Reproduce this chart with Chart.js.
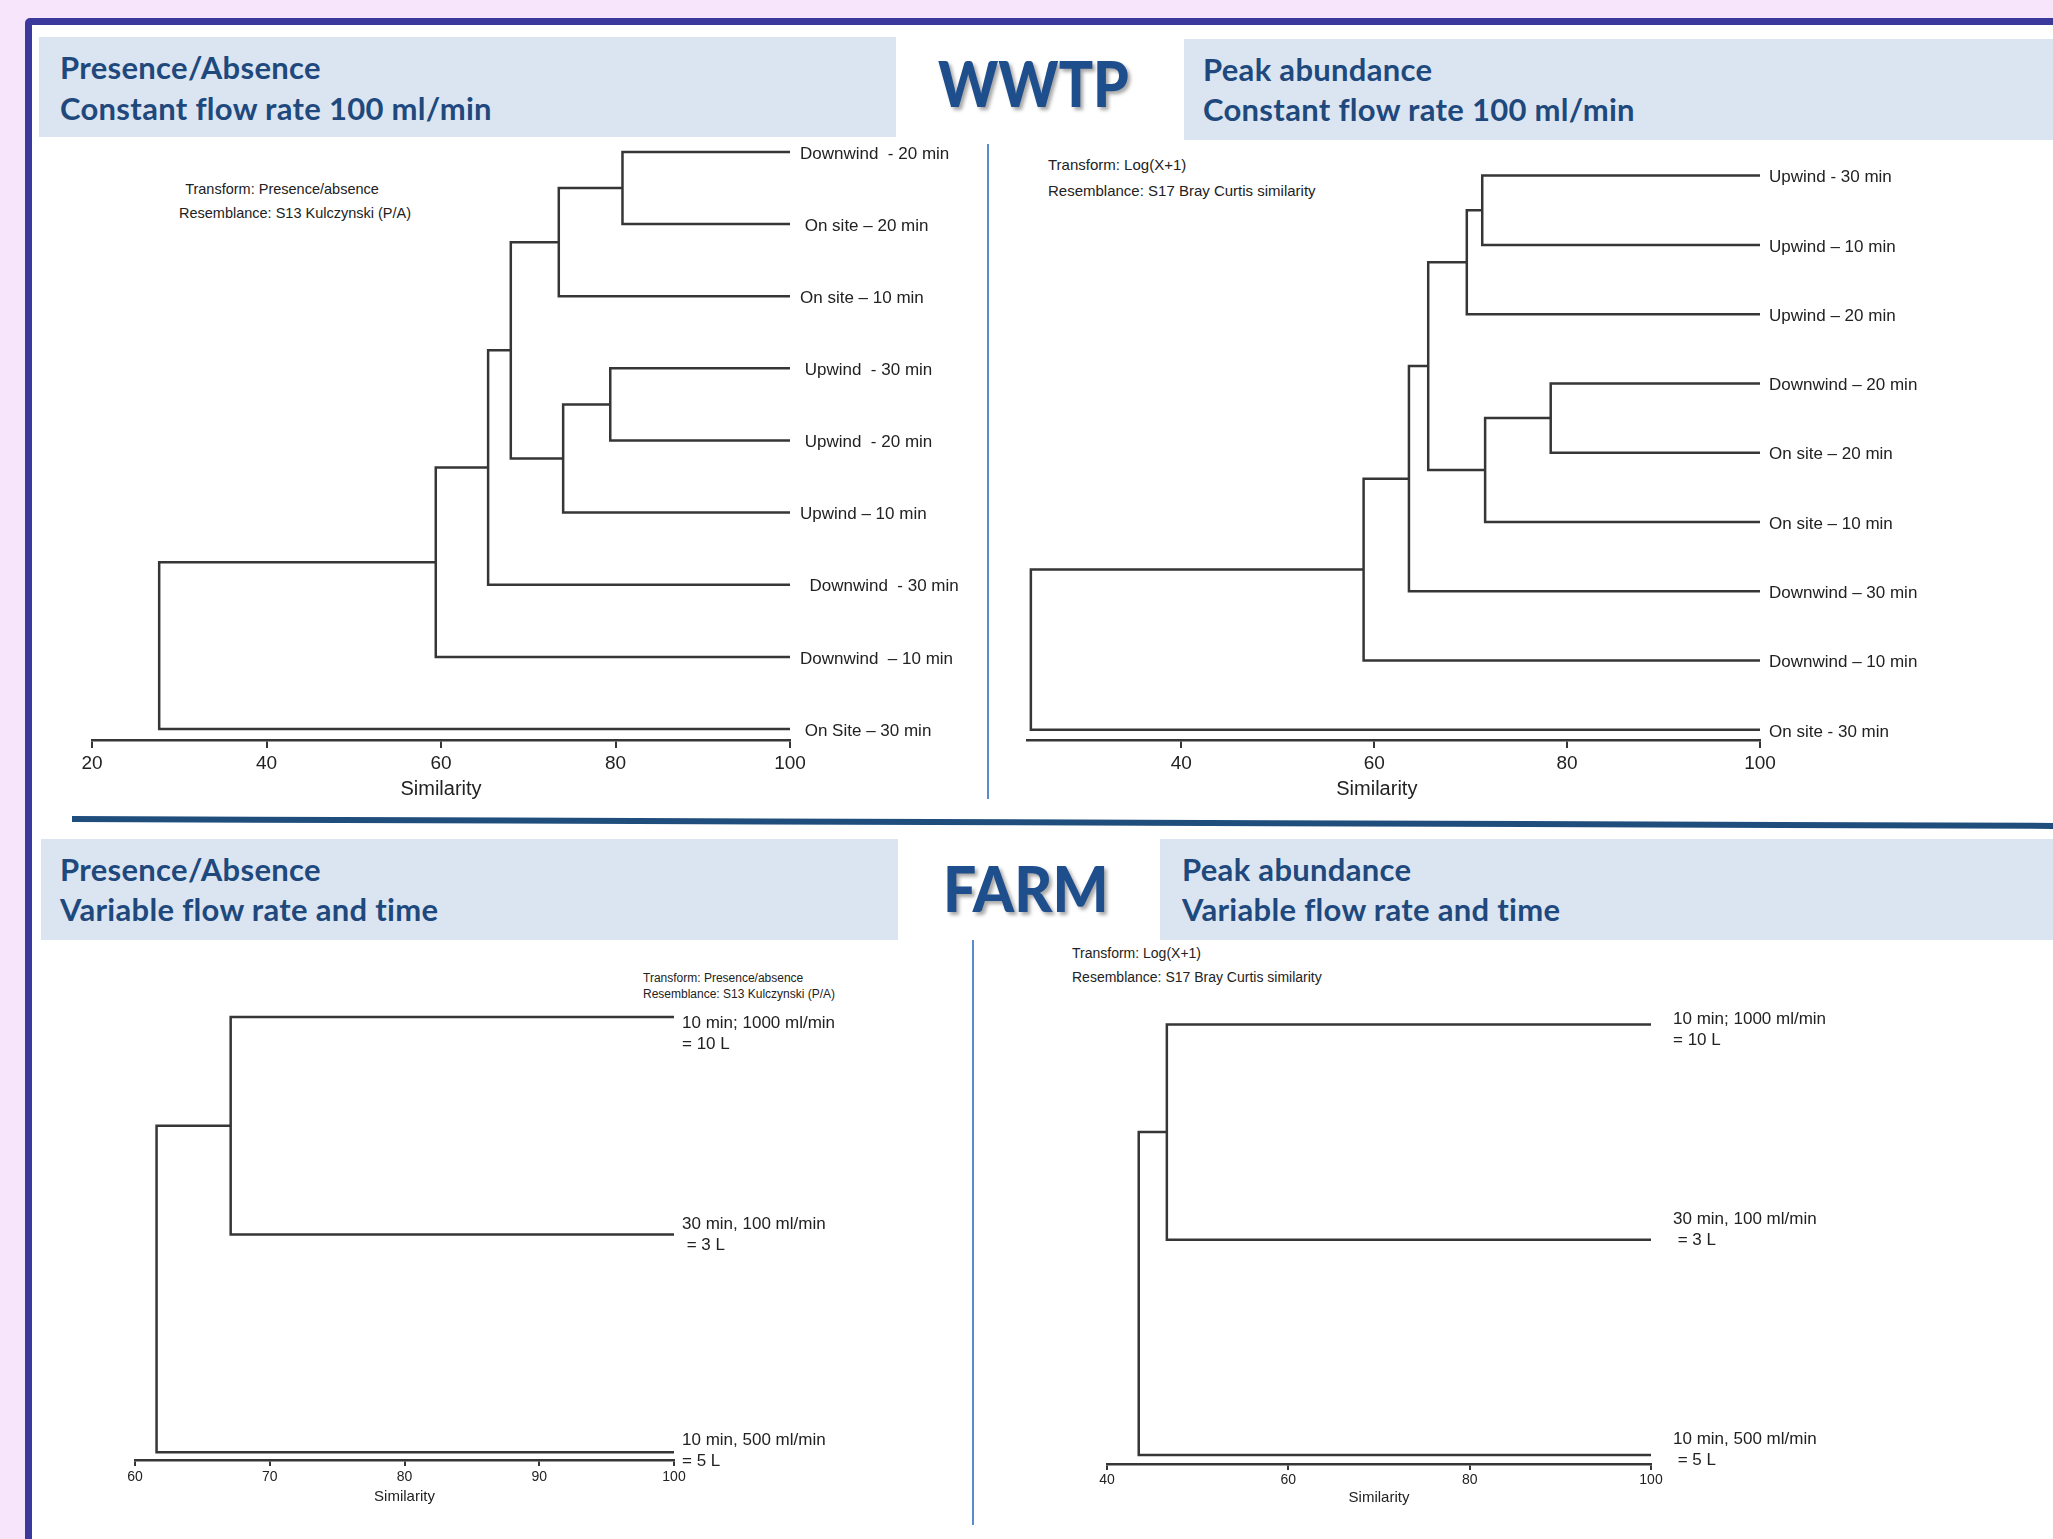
<!DOCTYPE html>
<html>
<head>
<meta charset="utf-8">
<script src="https://cdn.jsdelivr.net/npm/chart.js@4.4.0/dist/chart.umd.min.js"></script>
<style>
  html, body { margin: 0; padding: 0; }
  body { width: 2053px; height: 1539px; background: #f7e5fb; position: relative; overflow: hidden;
         font-family: 'Liberation Sans', Arial, sans-serif; }
  #frame { position: absolute; left: 25px; top: 18px; width: 2100px; height: 1600px; box-sizing: border-box;
           border: 7px solid #3b3a9c; border-radius: 5px; background: #fff; }
  .hbox { position: absolute; background: #dbe5f1; }
  .htext { position: absolute; font-family: Lato, 'Open Sans', sans-serif; font-weight: 700; color: #1f497d;
           font-size: 31px; letter-spacing: 0.3px; line-height: 1; white-space: nowrap; }
  .big { position: absolute; font-family: Lato, 'Open Sans', sans-serif; font-weight: 900; color: #1f4e8c;
         font-size: 62px; line-height: 1; text-shadow: 3px 3px 4px rgba(0,0,0,0.35); transform-origin: left top; }
  .vsep { position: absolute; width: 2px; background: #5b8bc9; }
  .note { position: absolute; color: #222; white-space: nowrap; line-height: 1; }
  canvas { position: absolute; }
</style>
</head>
<body>
<div id="frame"></div>

<div class="hbox" style="left:39px;top:37px;width:857px;height:100px"></div>
<div class="hbox" style="left:1184px;top:39px;width:900px;height:101px"></div>
<div class="hbox" style="left:41px;top:839px;width:857px;height:101px"></div>
<div class="hbox" style="left:1160px;top:839px;width:900px;height:101px"></div>

<div class="htext" style="left:60px;top:52px">Presence/Absence</div>
<div class="htext" style="left:60px;top:93px">Constant flow rate 100 ml/min</div>
<div class="htext" style="left:1203px;top:54px">Peak abundance</div>
<div class="htext" style="left:1203px;top:94px">Constant flow rate 100 ml/min</div>
<div class="htext" style="left:60px;top:854px">Presence/Absence</div>
<div class="htext" style="left:60px;top:894px">Variable flow rate and time</div>
<div class="htext" style="left:1182px;top:854px">Peak abundance</div>
<div class="htext" style="left:1182px;top:894px">Variable flow rate and time</div>

<div class="big" style="left:938px;top:52px;transform:scaleX(0.92)">WWTP</div>
<div class="big" style="left:943px;top:857px;transform:scaleX(0.95)">FARM</div>

<div class="vsep" style="left:987px;top:144px;height:655px"></div>
<div class="vsep" style="left:972px;top:940px;height:585px"></div>
<div style="position:absolute;left:72px;top:816px;width:2000px;height:6px;background:#1f4e7d;transform:rotate(0.2deg);transform-origin:left center"></div>

<div class="note" style="left:282px;top:182px;font-size:14.5px;transform:translateX(-50%)">Transform:  Presence/absence</div>
<div class="note" style="left:295px;top:206px;font-size:14.5px;transform:translateX(-50%)">Resemblance:  S13  Kulczynski  (P/A)</div>
<div class="note" style="left:1048px;top:157px;font-size:15px">Transform:  Log(X+1)</div>
<div class="note" style="left:1048px;top:183px;font-size:15px">Resemblance:  S17  Bray Curtis similarity</div>
<div class="note" style="left:643px;top:972px;font-size:12px">Transform: Presence/absence</div>
<div class="note" style="left:643px;top:988px;font-size:12px">Resemblance: S13 Kulczynski (P/A)</div>
<div class="note" style="left:1072px;top:946px;font-size:14px">Transform:  Log(X+1)</div>
<div class="note" style="left:1072px;top:970px;font-size:14px">Resemblance:  S17  Bray Curtis similarity</div>

<script>
// WWTP, presence/absence (leaves top to bottom, joins in order; ids >= leaf count are earlier joins)
const wpLeaves = ['Downwind  - 20 min', ' On site \u2013 20 min', 'On site \u2013 10 min', ' Upwind  - 30 min',
  ' Upwind  - 20 min', 'Upwind \u2013 10 min', '  Downwind  - 30 min', 'Downwind  \u2013 10 min', ' On Site \u2013 30 min'];
const wpJoinA = [0, 9, 3, 11, 10, 13, 14, 15];
const wpJoinB = [1, 2, 4, 5, 12, 6, 7, 8];
const wpSimilarity = [80.8, 73.5, 79.4, 74.0, 68.0, 65.4, 59.4, 27.7];
const wpTicks = [20, 40, 60, 80, 100];

// WWTP, peak abundance
const wkLeaves = ['Upwind - 30 min', 'Upwind \u2013 10 min', 'Upwind \u2013 20 min', 'Downwind \u2013 20 min',
  'On site \u2013 20 min', 'On site \u2013 10 min', 'Downwind \u2013 30 min', 'Downwind \u2013 10 min', 'On site - 30 min'];
const wkJoinA = [0, 9, 3, 11, 10, 13, 14, 15];
const wkJoinB = [1, 2, 4, 5, 12, 6, 7, 8];
const wkSimilarity = [71.2, 69.6, 78.3, 71.5, 65.6, 63.6, 58.9, 24.4];
const wkTicks = [40, 60, 80, 100];

// FARM, presence/absence
const fpLeaves = [['10 min; 1000 ml/min', '= 10 L'], ['30 min, 100 ml/min', ' = 3 L'], ['10 min, 500 ml/min', '= 5 L']];
const fpJoinA = [0, 3];
const fpJoinB = [1, 2];
const fpSimilarity = [67.1, 61.6];
const fpTicks = [60, 70, 80, 90, 100];

// FARM, peak abundance
const fkLeaves = [['10 min; 1000 ml/min', '= 10 L'], ['30 min, 100 ml/min', ' = 3 L'], ['10 min, 500 ml/min', ' = 5 L']];
const fkJoinA = [0, 3];
const fkJoinB = [1, 2];
const fkSimilarity = [46.6, 43.5];
const fkTicks = [40, 60, 80, 100];

const LINE = '#363636';
const FONT = "'Liberation Sans', Arial, sans-serif";

// one U-shaped path per join: child A -> join -> child B
function buildSegments(leaves, joinA, joinB, sim) {
  const nodes = leaves.map((_, i) => ({ x: 100, y: i }));
  const segs = [];
  joinA.forEach((a, k) => {
    const A = nodes[a], B = nodes[joinB[k]], s = sim[k];
    segs.push([{ x: A.x, y: A.y }, { x: s, y: A.y }, { x: s, y: B.y }, { x: B.x, y: B.y }]);
    nodes.push({ x: s, y: (A.y + B.y) / 2 });
  });
  return segs;
}

const leafLabels = {
  id: 'leafLabels',
  afterDraw(chart, args, opts) {
    const { ctx, scales: { x, y } } = chart;
    ctx.save();
    ctx.font = opts.font;
    ctx.fillStyle = '#222';
    ctx.textBaseline = 'middle';
    const x0 = x.getPixelForValue(100) + opts.gap;
    opts.labels.forEach((lab, i) => {
      const lines = Array.isArray(lab) ? lab : [lab];
      const cy = y.getPixelForValue(i) + opts.dy[i];
      lines.forEach((t, j) => ctx.fillText(t, x0, cy + (j - (lines.length - 1) / 2) * opts.lineHeight));
    });
    ctx.restore();
  }
};

function makePanel(p) {
  const padL = 40, padT = 20;
  const cv = document.createElement('canvas');
  cv.width = padL + (p.right - p.left) + p.padR;
  cv.height = padT + (p.bottom - p.top) + p.axisH;
  cv.style.left = (p.left - padL) + 'px';
  cv.style.top = (p.top - padT) + 'px';
  document.body.appendChild(cv);

  const segs = buildSegments(p.leaves, p.joinA, p.joinB, p.sim);
  new Chart(cv, {
    type: 'scatter',
    data: {
      datasets: segs.map(s => ({
        data: s, showLine: true, borderColor: LINE, borderWidth: p.lw,
        pointRadius: 0, clip: false, tension: 0
      }))
    },
    options: {
      responsive: false, animation: false, devicePixelRatio: 1,
      layout: { padding: { left: padL, right: p.padR, top: padT, bottom: 0 } },
      plugins: {
        legend: { display: false }, tooltip: { enabled: false },
        leafLabels: { labels: p.leaves, font: p.labelFont, gap: p.gap, dy: p.dy, lineHeight: p.lineHeight }
      },
      scales: {
        x: {
          type: 'linear', position: 'bottom', min: p.min, max: 100,
          afterBuildTicks: sc => { sc.ticks = p.ticks.map(v => ({ value: v })); },
          afterFit: sc => { sc.height = p.axisH; },
          ticks: { font: { family: FONT, size: p.tickSize }, color: '#222', padding: p.tickPad, maxRotation: 0, autoSkip: false },
          grid: { drawOnChartArea: false, drawTicks: true, tickLength: p.tickLen, color: LINE, lineWidth: 2 },
          border: { display: true, color: LINE, width: p.lw },
          title: { display: true, text: p.title, color: '#222', padding: 0,
                   font: { family: FONT, size: p.titleSize, lineHeight: 1.2 } }
        },
        y: { type: 'linear', display: false, reverse: true, min: p.yMin, max: p.yMax }
      }
    },
    plugins: [leafLabels]
  });
}

makePanel({ leaves: wpLeaves, joinA: wpJoinA, joinB: wpJoinB, sim: wpSimilarity, ticks: wpTicks, title: 'Similarity',
  left: 92, right: 790, top: 130, bottom: 740, min: 20, yMin: -0.305, yMax: 8.1525, padR: 230,
  axisH: 61, tickSize: 19, tickPad: 4, tickLen: 8, titleSize: 20, lw: 2.5,
  labelFont: "17px 'Liberation Sans', Arial, sans-serif", gap: 10, lineHeight: 20, dy: [2, 2, 2, 2, 2, 2, 2, 2, 2] });

makePanel({ leaves: wkLeaves, joinA: wkJoinA, joinB: wkJoinB, sim: wkSimilarity, ticks: wkTicks, title: 'Similarity      ',
  left: 1027, right: 1760, top: 150, bottom: 740, min: 24, yMin: -0.3695, yMax: 8.147, padR: 260,
  axisH: 61, tickSize: 19, tickPad: 4, tickLen: 8, titleSize: 20, lw: 2.5,
  labelFont: "17px 'Liberation Sans', Arial, sans-serif", gap: 9, lineHeight: 20, dy: [2, 2, 2, 2, 2, 2, 2, 2, 2] });

makePanel({ leaves: fpLeaves, joinA: fpJoinA, joinB: fpJoinB, sim: fpSimilarity, ticks: fpTicks, title: 'Similarity',
  left: 135, right: 674, top: 990, bottom: 1460, min: 60, yMin: -0.1236, yMax: 2.0358, padR: 220,
  axisH: 46, tickSize: 14, tickPad: 3, tickLen: 6, titleSize: 15, lw: 2.5,
  labelFont: "17px 'Liberation Sans', Arial, sans-serif", gap: 8, lineHeight: 21, dy: [16.5, 0.5, -1.5] });

makePanel({ leaves: fkLeaves, joinA: fkJoinA, joinB: fkJoinB, sim: fkSimilarity, ticks: fkTicks, title: 'Similarity',
  left: 1107, right: 1651, top: 1000, bottom: 1464, min: 40, yMin: -0.1133, yMax: 2.0413, padR: 250,
  axisH: 43, tickSize: 14, tickPad: 2, tickLen: 6, titleSize: 15, lw: 2.5,
  labelFont: "17px 'Liberation Sans', Arial, sans-serif", gap: 22, lineHeight: 21, dy: [5, -10, -5.5] });
</script>
</body>
</html>
